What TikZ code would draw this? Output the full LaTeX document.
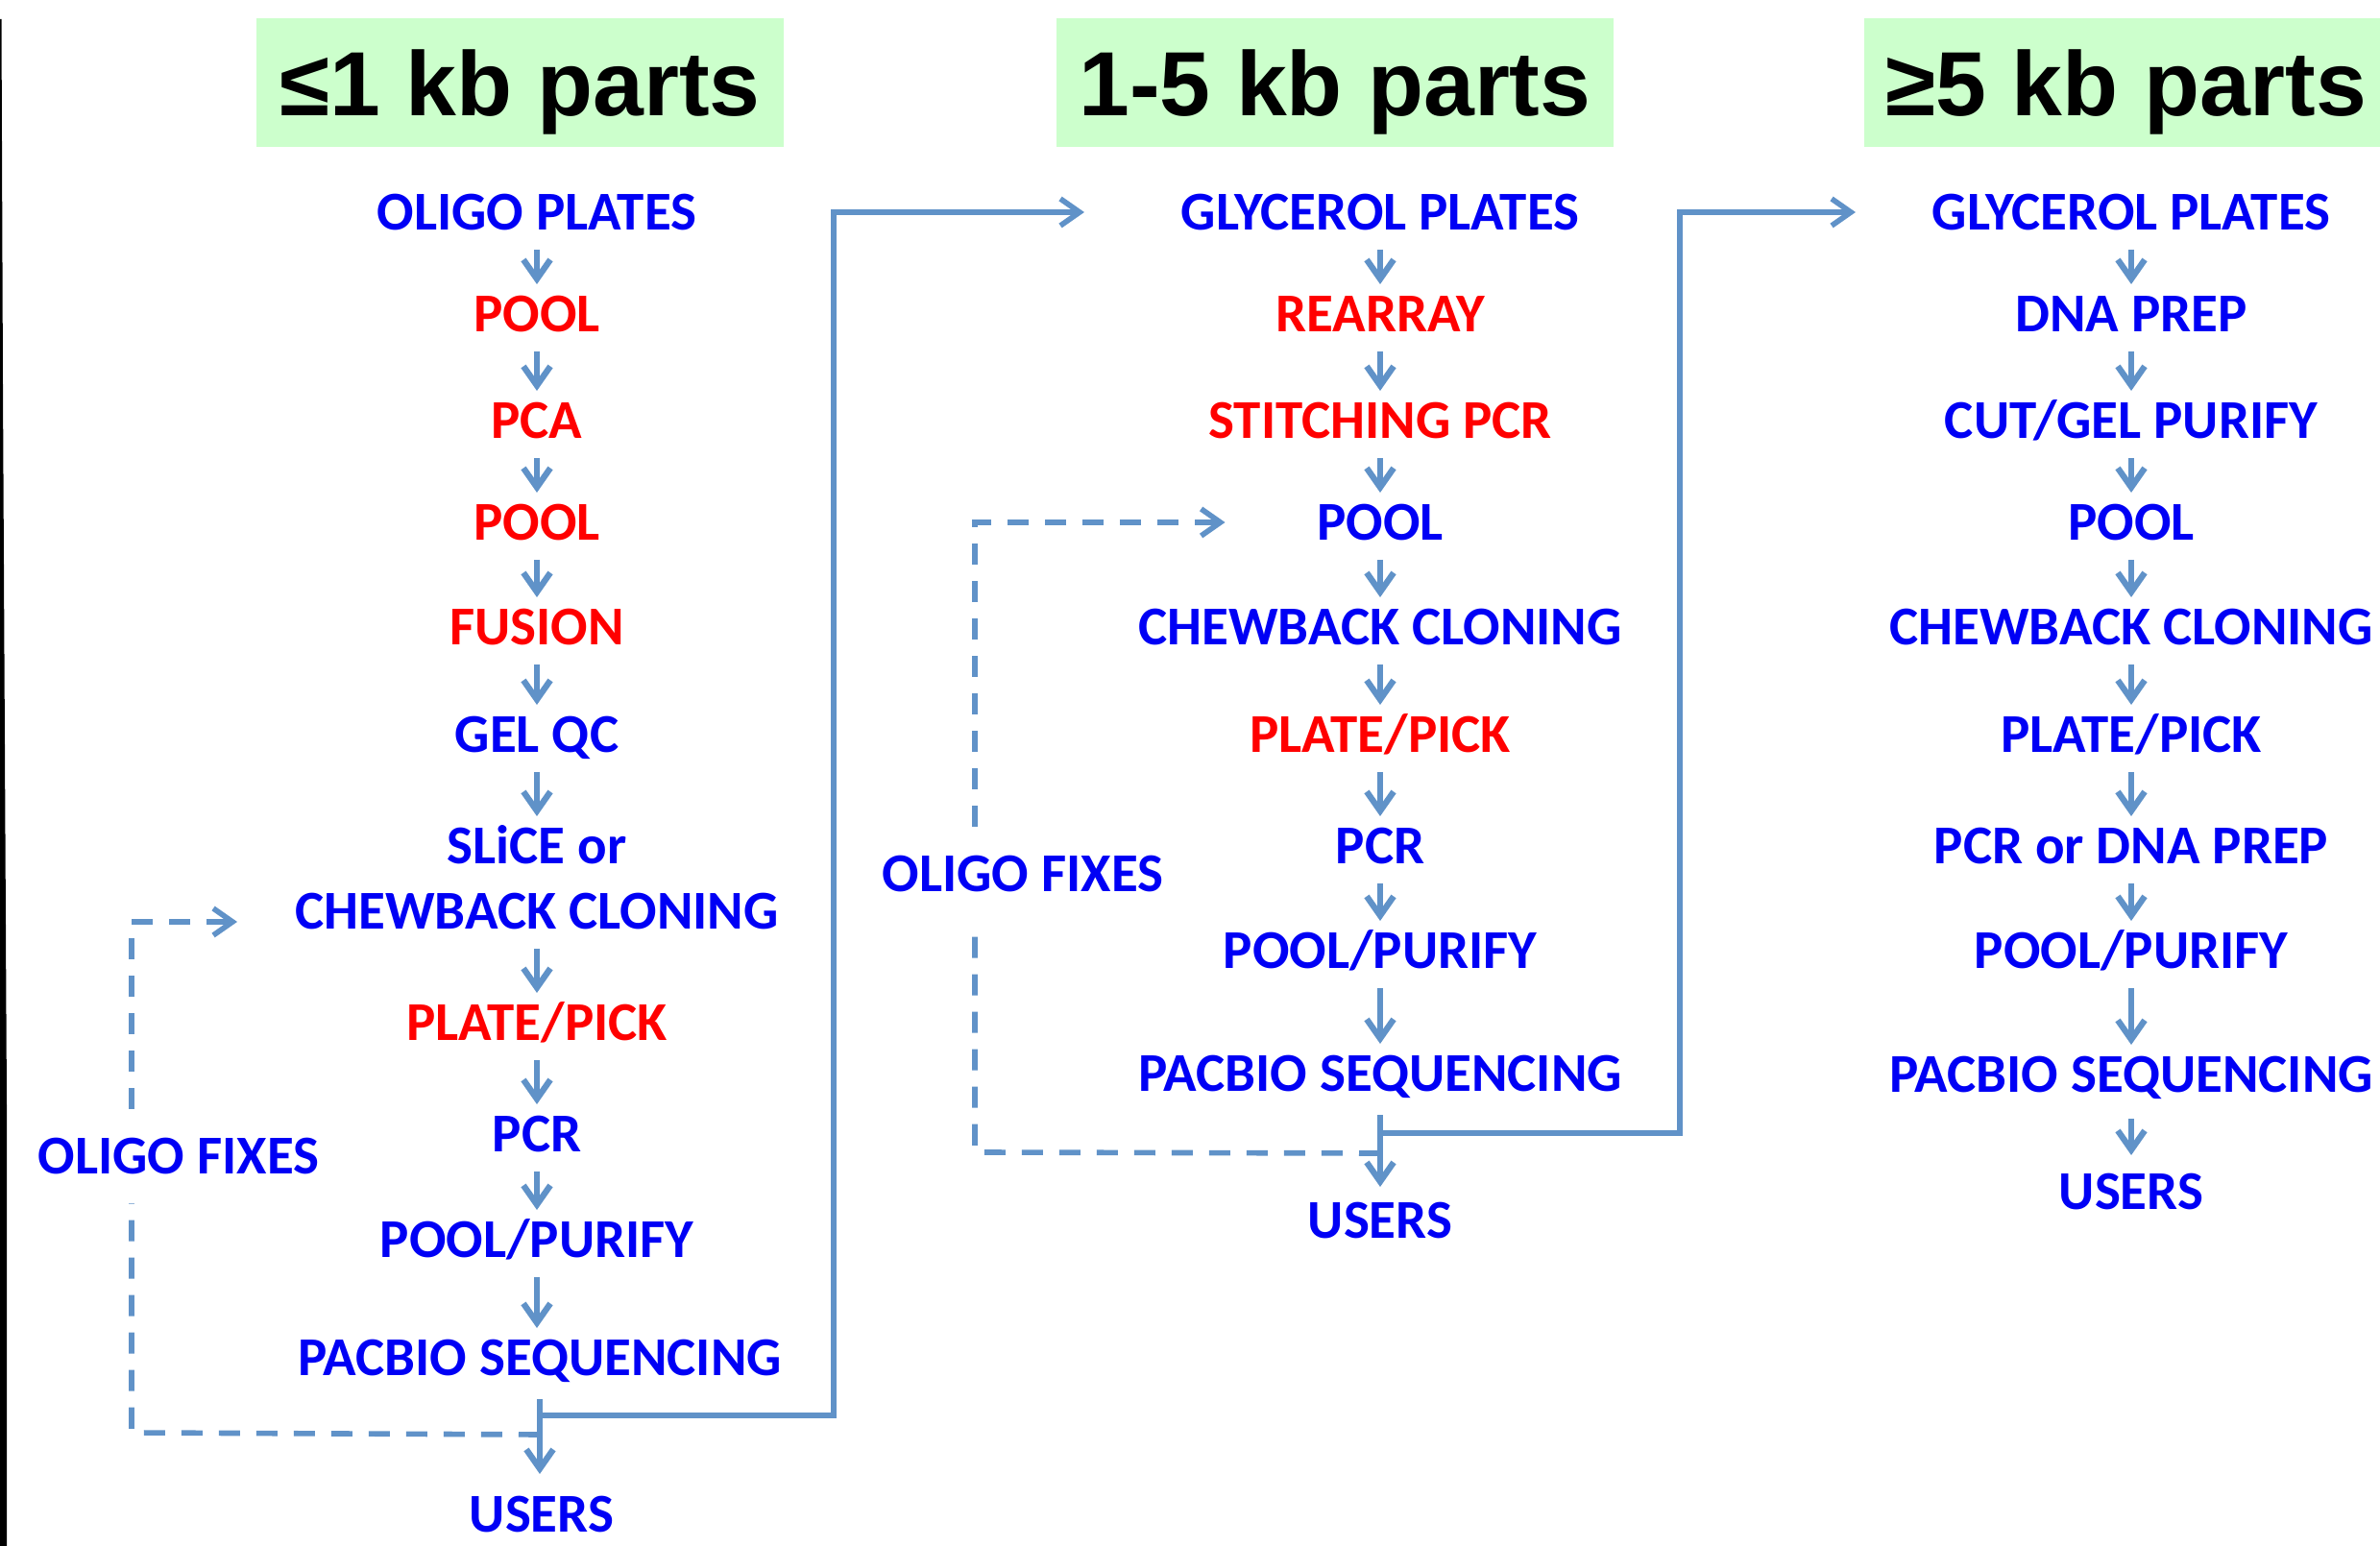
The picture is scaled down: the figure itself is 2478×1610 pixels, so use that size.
\documentclass[tikz,border=0pt]{standalone}
\usepackage{fontspec}
\setmainfont{Carlito}
\newfontfamily\hdrfont{Liberation Sans}
\usetikzlibrary{arrows.meta,calc}
\definecolor{txtblue}{RGB}{0,0,245}
\definecolor{txtred}{RGB}{255,0,0}
\definecolor{lnblue}{RGB}{96,146,200}
\definecolor{hdrgreen}{RGB}{204,255,204}
\begin{document}
\begin{tikzpicture}[x=0.01cm,y=-0.01cm,
  stepb/.style={font=\fontsize{16.2}{19}\selectfont\bfseries, text height=10.4pt, text depth=0pt, inner sep=0pt, anchor=center},
  bl/.style={stepb, text=txtblue},
  rd/.style={stepb, text=txtred},
  fixlab/.style={stepb, text=txtblue, inner xsep=0pt, inner ysep=0.3cm},
  hdr/.style={fill=hdrgreen, font=\hdrfont\fontsize{27}{32}\selectfont\bfseries, text height=25.5pt, text depth=5.7pt, inner sep=0pt, minimum height=1.34cm},
  tipb/.style={-{Straight Barb[length=0.2cm,width=0.28cm]}},
  flow/.style={draw=lnblue, line width=1.8pt, tipb, shorten <=0.2cm, shorten >=0.12cm},
  conn/.style={draw=lnblue, line width=1.6pt},
  dconn/.style={draw=lnblue, line width=1.6pt, dash pattern=on 0.22cm off 0.17cm}
]
\useasboundingbox (0,0) rectangle (2478,1610);
\clip (0,0) rectangle (2478,1610);
\fill[white] (0,0) rectangle (2478,1610);
% left edge
\fill[black] (0,20) -- (1.5,20) -- (3,400) -- (7,1150) -- (7,1610) -- (0,1610) -- cycle;

% headers
\node[hdr, minimum width=5.49cm] (h1) at (541.5,86) {≤1 kb parts};
\node[hdr, minimum width=5.80cm] (h2) at (1390,86) {1-5 kb parts};
\node[hdr, minimum width=5.46cm] (h3) at (2214,86) {≥5 kb parts};

% column 1
\node[bl] (o1)   at (559,221)  {OLIGO PLATES};
\node[rd] (p1a)  at (559,327)  {POOL};
\node[rd] (pca)  at (559,438)  {PCA};
\node[rd] (p1b)  at (559,544)  {POOL};
\node[rd] (fus)  at (559,653)  {FUSION};
\node[bl] (gel)  at (559,765)  {GEL QC};
\node[bl] (slc)  at (559,881)  {SLiCE or};
\node[bl] (chw1) at (559,949)  {CHEWBACK CLONING};
\node[rd] (pp1)  at (559,1065) {PLATE/PICK};
\node[bl] (pcr1) at (559,1181) {PCR};
\node[bl] (pur1) at (559,1291) {POOL/PURIFY};
\node[bl] (pac1) at (562,1414) {PACBIO SEQUENCING};
\node[bl] (usr1) at (564,1577) {USERS};
\node[fixlab] (fix1) at (186,1204) {OLIGO FIXES};

% column 2
\node[bl] (g2)   at (1437,221)  {GLYCEROL PLATES};
\node[rd] (rea)  at (1437,327)  {REARRAY};
\node[rd] (sti)  at (1437,438)  {STITCHING PCR};
\node[bl] (p2)   at (1437,544)  {POOL};
\node[bl] (chw2) at (1437,653)  {CHEWBACK CLONING};
\node[rd] (pp2)  at (1437,765)  {PLATE/PICK};
\node[bl] (pcr2) at (1437,881)  {PCR};
\node[bl] (pur2) at (1437,990)  {POOL/PURIFY};
\node[bl] (pac2) at (1437,1118) {PACBIO SEQUENCING};
\node[bl] (usr2) at (1437,1271) {USERS};
\node[fixlab] (fix2) at (1065,910) {OLIGO FIXES};

% column 3
\node[bl] (g3)   at (2219,221)  {GLYCEROL PLATES};
\node[bl] (dna)  at (2219,327)  {DNA PREP};
\node[bl] (cut)  at (2219,438)  {CUT/GEL PURIFY};
\node[bl] (p3)   at (2219,544)  {POOL};
\node[bl] (chw3) at (2219,653)  {CHEWBACK CLONING};
\node[bl] (pp3)  at (2219,765)  {PLATE/PICK};
\node[bl] (pcd)  at (2219,881)  {PCR or DNA PREP};
\node[bl] (pur3) at (2219,990)  {POOL/PURIFY};
\node[bl] (pac3) at (2219,1119) {PACBIO SEQUENCING};
\node[bl] (usr3) at (2219,1241) {USERS};

% small flow arrows
\foreach \a/\b in {o1/p1a,p1a/pca,pca/p1b,p1b/fus,fus/gel,gel/slc,chw1/pp1,pp1/pcr1,pcr1/pur1,pur1/pac1,
                   g2/rea,rea/sti,sti/p2,p2/chw2,chw2/pp2,pp2/pcr2,pcr2/pur2,pur2/pac2,
                   g3/dna,dna/cut,cut/p3,p3/chw3,chw3/pp3,pp3/pcd,pcd/pur3,pur3/pac3}
  \draw[flow] (\a.south) -- (\a.south |- \b.north);
\draw[flow, shorten <=0.24cm, shorten >=0.23cm] (pac1.south) -- (pac1.south |- usr1.north);
\draw[flow, shorten <=0.24cm, shorten >=0.16cm] (pac2.south) -- (pac2.south |- usr2.north);
\draw[flow, shorten <=0.27cm, shorten >=0.19cm] (pac3.south) -- (pac3.south |- usr3.north);

% junction points
\path (pac1.south) ++(0,41) coordinate (j1s);
\path (pac1.south) ++(0,61) coordinate (j1d);
\path (pac2.south) ++(0,43) coordinate (j2s);
\path (pac2.south) ++(0,64) coordinate (j2d);

% solid connectors to next column
\coordinate (k1) at (868,221);
\coordinate (k2) at (1749,221);
\draw[conn, tipb, shorten >=1.0cm] (j1s) -| (k1) -- (g2.west);
\draw[conn, tipb, shorten >=0.79cm] (j2s) -| (k2) -- (g3.west);

% dashed oligo-fix loops
\coordinate (d1) at (137,1492);
\coordinate (t1) at (247,960);
\draw[dconn] (j1d) -- (d1) -- (d1 |- fix1.south);
\draw[dconn, tipb] (d1 |- fix1.north) |- (t1);
\coordinate (d2) at (1015,1200);
\draw[dconn] (j2d) -- (d2) -- (d2 |- fix2.south);
\draw[dconn, tipb, shorten >=0.95cm] (d2 |- fix2.north) |- (p2.west);
\end{tikzpicture}
\end{document}
